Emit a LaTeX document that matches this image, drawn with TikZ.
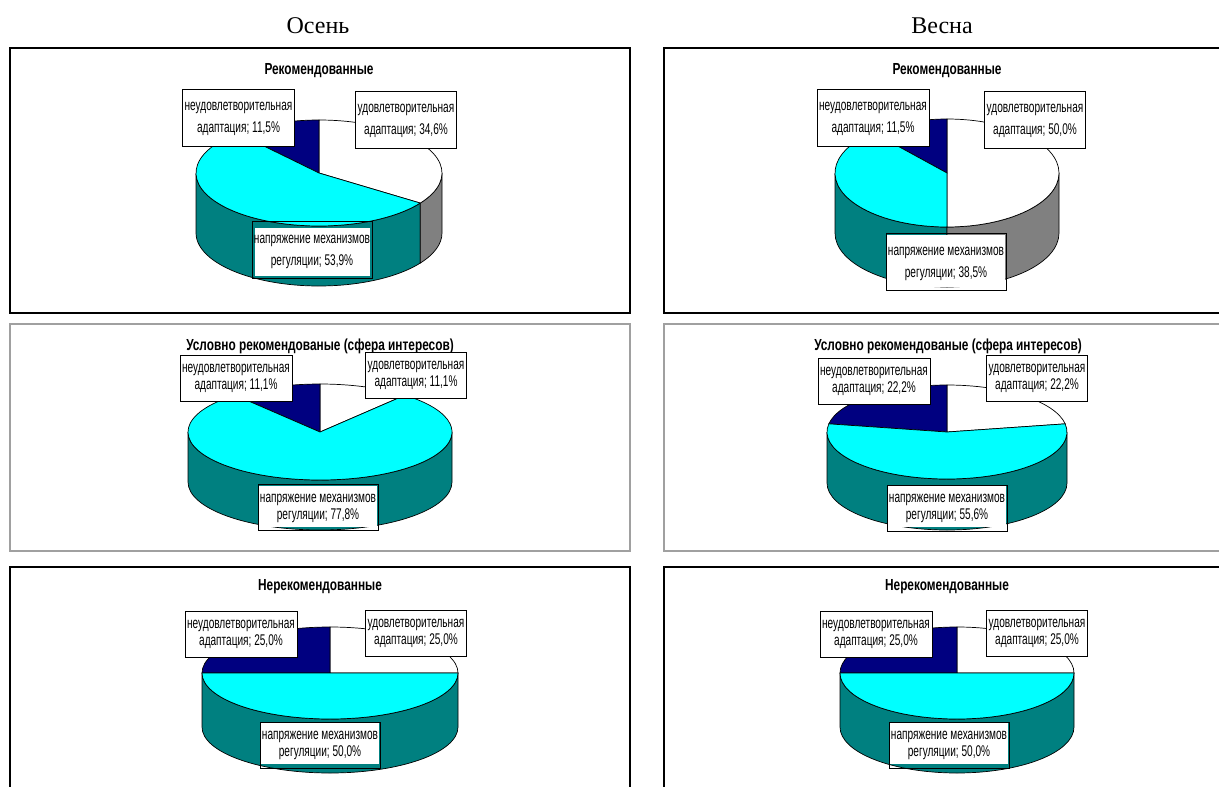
\documentclass[tikz,border=0pt]{standalone}
\usepackage{fontspec}
\setmainfont{Liberation Serif}
\newfontfamily\arialf{Liberation Sans}
\usepackage{graphicx}
\usetikzlibrary{calc}
\definecolor{pcyan}{RGB}{0,255,255}
\definecolor{pnavy}{RGB}{0,0,128}
\definecolor{pteal}{RGB}{0,128,128}
\definecolor{pgray}{RGB}{128,128,128}
\definecolor{fgray}{RGB}{160,160,160}
\newcommand\nw[1]{\scalebox{0.65}[1]{\strut #1}}
\newcommand\nb[1]{\scalebox{0.74}[1]{#1}}
\newcommand\lt[2]{\nw{#1}\\\nw{#2}}
\newcommand\slicetop[7]{%
  \filldraw[pieline, fill=#7] (#1,-#2) -- ($(#1,-#2)+(#5:#3 and #4)$) arc[start angle=#5, end angle=#6, x radius=#3, y radius=#4] -- cycle;}
\newcommand\sideface[8]{%
  \filldraw[pieline, fill=#8] ($(#1,-#2)+(#6:#3 and #4)$) arc[start angle=#6, end angle=#7, x radius=#3, y radius=#4] -- ++(0,-#5) arc[start angle=#7, end angle=#6, x radius=#3, y radius=#4] -- cycle;}
\tikzset{
  pieline/.style={draw=black, line width=0.7pt},
  panel/.style={draw=black, line width=1.2pt},
  panelg/.style={draw=fgray, line width=1.2pt},
  season/.style={font=\fontsize{24}{27}\selectfont, inner sep=0pt},
  ttl/.style={font=\arialf\bfseries\fontsize{16}{19}\selectfont, inner sep=0pt},
  labbase/.style={draw=black, line width=0.7pt, align=center, inner xsep=2pt},
  big/.style={inner ysep=6.5pt, font=\arialf\fontsize{15.5}{22}\selectfont},
  small/.style={inner ysep=6pt, font=\arialf\fontsize{15.5}{17}\selectfont},
  lab/.style={labbase, fill=white},
  botlab/.style n args={4}{labbase,
    path picture={\fill[white] ([xshift=#1,yshift=#4]path picture bounding box.south west) rectangle ([xshift=-#3,yshift=-#2]path picture bounding box.north east);}}
}
\begin{document}
\begin{tikzpicture}[x=1pt,y=1pt]
\useasboundingbox (0,0) rectangle (1219,-787);
\clip (0,0) rectangle (1219,-787);
% season titles
\node[season] (autumn) at (318,-26) {Осень};
\node[season] (spring) at (942,-26) {Весна};
% panels
\draw[panel] (10,-48) rectangle (630,-313);
\draw[panel] (664,-48) rectangle (1235,-313);
\draw[panelg] (10,-324) rectangle (630,-551);
\draw[panelg] (664,-324) rectangle (1235,-551);
\draw[panel] (10,-567) rectangle (630,-800);
\draw[panel] (664,-567) rectangle (1235,-800);
% ---------- TL pie
\sideface{319}{173}{123}{53}{60}{180}{325.44}{pteal}
\sideface{319}{173}{123}{53}{60}{325.44}{360}{pgray}
\slicetop{319}{173}{123}{53}{-34.56}{90}{white}
\slicetop{319}{173}{123}{53}{90}{131.4}{pnavy}
\slicetop{319}{173}{123}{53}{131.4}{325.44}{pcyan}
\node[ttl] (t1) at (319,-71) {\nb{Рекомендованные}};
\node[lab, big] (l1a) at (238.5,-117.5) {\lt{неудовлетворительная}{адаптация; 11,5\%}};
\node[lab, big] (l1b) at (406,-119.5) {\lt{удовлетворительная}{адаптация; 34,6\%}};
\node[botlab={3pt}{6pt}{2pt}{3pt}, big] (l1c) at (312,-250) {\lt{напряжение механизмов}{регуляции; 53,9\%}};
% ---------- TR pie
\sideface{947}{173}{112}{54}{60}{180}{270}{pteal}
\sideface{947}{173}{112}{54}{60}{270}{360}{pgray}
\slicetop{947}{173}{112}{54}{-90}{90}{white}
\slicetop{947}{173}{112}{54}{90}{131.4}{pnavy}
\slicetop{947}{173}{112}{54}{131.4}{270}{pcyan}
\node[ttl] (t2) at (947,-71) {\nb{Рекомендованные}};
\node[lab, big] (l2a) at (873,-117.5) {\lt{неудовлетворительная}{адаптация; 11,5\%}};
\node[lab, big] (l2b) at (1035,-119.5) {\lt{удовлетворительная}{адаптация; 50,0\%}};
\node[botlab={1pt}{1pt}{1pt}{4pt}, big] (l2c) at (946,-262) {\lt{напряжение механизмов}{регуляции; 38,5\%}};
% ---------- ML pie
\sideface{320}{432}{132}{48}{50}{180}{360}{pteal}
\slicetop{320}{432}{132}{48}{50}{90}{white}
\slicetop{320}{432}{132}{48}{90}{130}{pnavy}
\slicetop{320}{432}{132}{48}{130}{410}{pcyan}
\node[ttl] (t3) at (320,-346) {\nb{Условно рекомендованые (сфера интересов)}};
\node[lab, small] (l3a) at (236,-378) {\lt{неудовлетворительная}{адаптация; 11,1\%}};
\node[lab, small] (l3b) at (416,-375) {\lt{удовлетворительная}{адаптация; 11,1\%}};
\node[botlab={1pt}{1pt}{1pt}{4pt}, small] (l3c) at (318,-507.5) {\lt{напряжение механизмов}{регуляции; 77,8\%}};
% ---------- MR pie
\sideface{947}{432}{120}{47}{51}{180}{360}{pteal}
\slicetop{947}{432}{120}{47}{10}{90}{white}
\slicetop{947}{432}{120}{47}{90}{170}{pnavy}
\slicetop{947}{432}{120}{47}{170}{370}{pcyan}
\node[ttl] (t4) at (948,-346) {\nb{Условно рекомендованые (сфера интересов)}};
\node[lab, small] (l4a) at (874,-381) {\lt{неудовлетворительная}{адаптация; 22,2\%}};
\node[lab, small] (l4b) at (1037,-378) {\lt{удовлетворительная}{адаптация; 22,2\%}};
\node[botlab={1pt}{1pt}{1pt}{4pt}, small] (l4c) at (947,-508) {\lt{напряжение механизмов}{регуляции; 55,6\%}};
% ---------- BL pie
\sideface{330}{673}{128}{46}{54}{180}{360}{pteal}
\slicetop{330}{673}{128}{46}{0}{90}{white}
\slicetop{330}{673}{128}{46}{90}{180}{pnavy}
\slicetop{330}{673}{128}{46}{180}{360}{pcyan}
\node[ttl] (t5) at (320,-587) {\nb{Нерекомендованные}};
\node[lab, small] (l5a) at (241,-634) {\lt{неудовлетворительная}{адаптация; 25,0\%}};
\node[lab, small] (l5b) at (416,-633) {\lt{удовлетворительная}{адаптация; 25,0\%}};
\node[botlab={1pt}{1pt}{1pt}{4pt}, small] (l5c) at (320,-745) {\lt{напряжение механизмов}{регуляции; 50,0\%}};
% ---------- BR pie
\sideface{957}{673}{117}{46}{54}{180}{360}{pteal}
\slicetop{957}{673}{117}{46}{0}{90}{white}
\slicetop{957}{673}{117}{46}{90}{180}{pnavy}
\slicetop{957}{673}{117}{46}{180}{360}{pcyan}
\node[ttl] (t6) at (947,-587) {\nb{Нерекомендованные}};
\node[lab, small] (l6a) at (876,-634) {\lt{неудовлетворительная}{адаптация; 25,0\%}};
\node[lab, small] (l6b) at (1037,-633) {\lt{удовлетворительная}{адаптация; 25,0\%}};
\node[botlab={1pt}{1pt}{1pt}{4pt}, small] (l6c) at (949,-745) {\lt{напряжение механизмов}{регуляции; 50,0\%}};
\end{tikzpicture}
\end{document}
